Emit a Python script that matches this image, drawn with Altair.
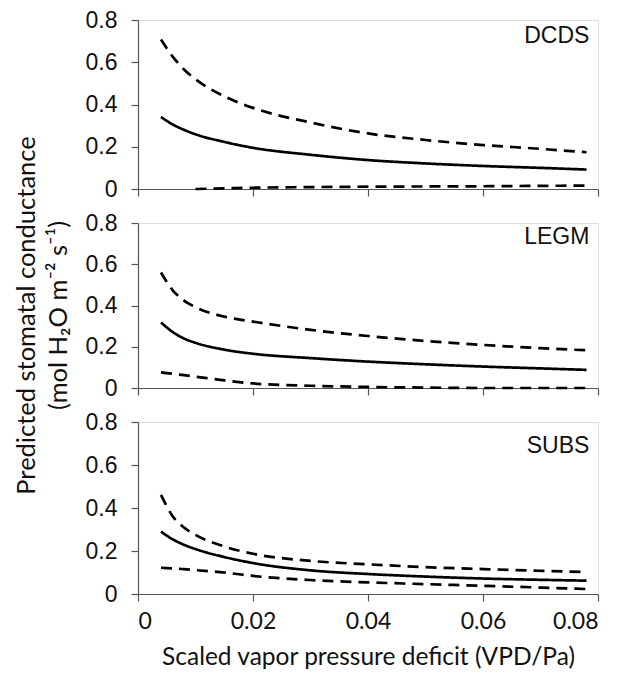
import altair as alt
import pandas as pd

# ---- data ----
vpd = [0.004, 0.006, 0.008, 0.010, 0.015, 0.020, 0.030, 0.040, 0.050, 0.060, 0.070, 0.078]

dcds_mean = [0.341, 0.306, 0.280, 0.259, 0.223, 0.195, 0.162, 0.137, 0.121, 0.109, 0.100, 0.092]
dcds_upper = [0.708, 0.628, 0.566, 0.520, 0.439, 0.384, 0.315, 0.263, 0.232, 0.208, 0.190, 0.174]
dcds_lower_x = [0.0100, 0.015, 0.020, 0.030, 0.040, 0.050, 0.060, 0.070, 0.078]
dcds_lower = [0.000, 0.003, 0.006, 0.009, 0.011, 0.012, 0.013, 0.015, 0.016]

legm_mean = [0.318, 0.272, 0.240, 0.219, 0.186, 0.166, 0.145, 0.128, 0.115, 0.104, 0.095, 0.088]
legm_upper = [0.560, 0.475, 0.424, 0.392, 0.346, 0.322, 0.282, 0.252, 0.228, 0.209, 0.193, 0.183]
legm_lower = [0.076, 0.069, 0.062, 0.055, 0.037, 0.022, 0.011, 0.005, 0.002, 0.000, 0.000, 0.000]

subs_mean = [0.290, 0.255, 0.229, 0.209, 0.172, 0.144, 0.110, 0.093, 0.081, 0.072, 0.066, 0.062]
subs_upper = [0.461, 0.363, 0.309, 0.275, 0.221, 0.187, 0.154, 0.138, 0.125, 0.116, 0.108, 0.102]
subs_lower = [0.122, 0.119, 0.116, 0.111, 0.100, 0.084, 0.065, 0.054, 0.046, 0.038, 0.030, 0.023]

panels = ["DCDS", "LEGM", "SUBS"]
label_x = [0.0785, 0.0785, 0.0785]
label_y = [0.690, 0.700, 0.656]

y_ticks = [0, 0.2, 0.4, 0.6, 0.8]
x_ticks = [0, 0.02, 0.04, 0.06, 0.08]

y_title = ["Predicted stomatal conductance", "(mol H\u2082O m\u207b\u00b2 s\u207b\u00b9)"]
x_title = "Scaled vapor pressure deficit (VPD/Pa)"

# ---- build long table ----
rows = []
def add(panel, band, xs, ys):
    for a, b in zip(xs, ys):
        rows.append({"panel": panel, "band": band, "x": a, "y": b})

add("DCDS", "mean", vpd, dcds_mean)
add("DCDS", "upper", vpd, dcds_upper)
add("DCDS", "lower", dcds_lower_x, dcds_lower)
add("LEGM", "mean", vpd, legm_mean)
add("LEGM", "upper", vpd, legm_upper)
add("LEGM", "lower", vpd, legm_lower)
add("SUBS", "mean", vpd, subs_mean)
add("SUBS", "upper", vpd, subs_upper)
add("SUBS", "lower", vpd, subs_lower)
df = pd.DataFrame(rows)

labels = pd.DataFrame({"panel": panels, "x": label_x, "y": label_y})

AXIS_COLOR = "#555555"
heights = [169, 165, 172]


def panel_chart(i, name):
    bottom = i == 2
    middle = i == 1
    xaxis = alt.Axis(
        values=x_ticks, format="~g", grid=False, tickSize=7,
        domainColor=AXIS_COLOR, tickColor=AXIS_COLOR, domainWidth=1.2, tickWidth=1.2,
        labels=bottom, labelFont="Lato", labelFontSize=23, labelColor="#111",
        labelPadding=9,
        title=x_title if bottom else None,
        titleFont="Lato", titleFontSize=24.5, titleFontWeight="normal", titleColor="#111",
        titlePadding=12,
    )
    yargs = dict(
        values=y_ticks, format="~g", grid=False, tickSize=7,
        domainColor=AXIS_COLOR, tickColor=AXIS_COLOR, domainWidth=1.2, tickWidth=1.2,
        labelFont="Liberation Sans", labelFontSize=23, labelColor="#111",
        labelPadding=14,
    )
    if middle:
        yargs.update(
            title=y_title, titleFont="Lato", titleFontSize=25.5, titleFontWeight="normal",
            titleColor="#111", titlePadding=14, titleLineHeight=32, titleY=92,
        )
    else:
        yargs.update(title=None)
    yaxis = alt.Axis(**yargs)

    base = alt.Chart(df[df.panel == name])
    lines = base.mark_line(color="black", strokeWidth=2.7, interpolate="monotone").encode(
        x=alt.X("x:Q", scale=alt.Scale(domain=[0, 0.08], nice=False), axis=xaxis),
        y=alt.Y("y:Q", scale=alt.Scale(domain=[0, 0.8], nice=False), axis=yaxis),
        strokeDash=alt.StrokeDash(
            "band:N",
            scale=alt.Scale(domain=["mean", "upper", "lower"], range=[[1, 0], [11, 7], [11, 7]]),
            legend=None,
        ),
    )
    text = alt.Chart(labels[labels.panel == name]).mark_text(
        font="Liberation Sans", fontSize=23, align="right", baseline="alphabetic", color="#111"
    ).encode(x="x:Q", y="y:Q", text="panel:N")
    return alt.layer(lines, text).properties(width=460, height=heights[i])


chart = alt.vconcat(
    *[panel_chart(i, n) for i, n in enumerate(panels)],
    spacing=34, bounds="flush",
).properties(
    padding={"left": 5, "top": 0, "right": 5, "bottom": 5},
).configure_view(stroke=None).configure(background="white")

chart.save("out.html", embed_options={"renderer": "svg", "actions": False})
